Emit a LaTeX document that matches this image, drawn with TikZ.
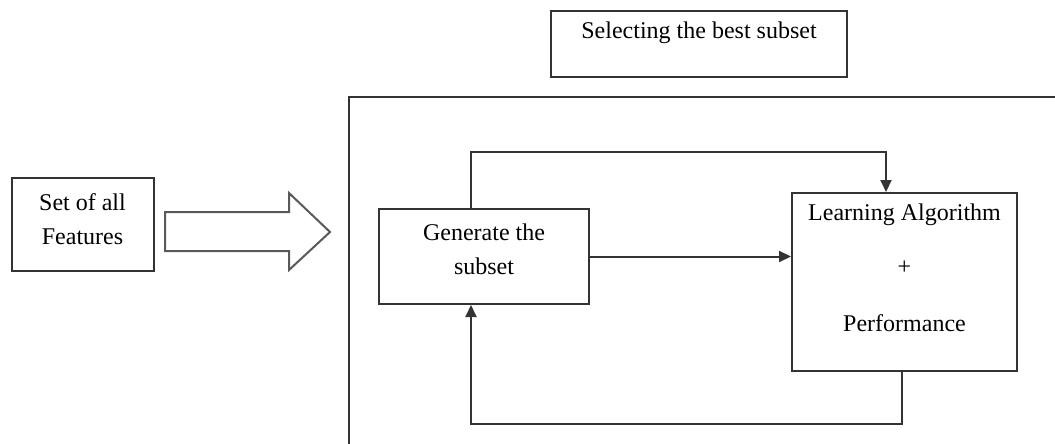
\documentclass[tikz,border=0pt]{standalone}
\usepackage{fontspec}
\setmainfont{Liberation Serif}
\usetikzlibrary{arrows.meta}
\begin{document}
\begin{tikzpicture}[x=1pt,y=-1pt,
  box/.style={draw=black!80,line width=2pt,fill=white,inner sep=0pt},
  txt/.style={font=\fontsize{24}{34}\selectfont,align=center,inner sep=0pt},
  wire/.style={draw=black!80,line width=2pt},
  arr/.style={wire,-{Triangle[length=12pt,width=11pt]}}]
\clip (0,0) rectangle (1055,444);
\fill[white] (0,0) rectangle (1055,444);

% input box
\node[box,minimum width=142pt,minimum height=93pt] (feat) at (82.5,224.5) {};
\node[txt] (feattxt) at (82.5,219) {Set of all\\Features};

% hollow block arrow into the selection frame
\draw[draw=black!65,line width=2pt,line join=miter]
  (165,212) -- (289,212) -- (289,193) -- (330,232) -- (289,270) -- (289,251) -- (165,251) -- cycle;

% title box
\node[box,minimum width=296pt,minimum height=66pt] (sel) at (699,44) {};
\node[txt] (seltxt) at (699,33) {Selecting the best subset};

% open frame around the wrapper loop
\draw[wire] (1060,97) -- (349,97) -- (349,450);

% inner blocks
\node[box,minimum width=210pt,minimum height=95pt] (gen) at (484,256.5) {};
\node[txt] (gentxt) at (484,249.5) {Generate the\\subset};

\node[box,minimum width=225pt,minimum height=178pt] (learn) at (904.5,282) {};
\node[txt] (l1) at (904.5,215) {Learning Algorithm};
\node[txt] (l2) at (904.5,268) {+};
\node[txt] (l3) at (904.5,323) {Performance};

% connectors
\coordinate (tl) at (471,152);
\coordinate (tr) at (886,152);
\coordinate (bl) at (471,424);
\coordinate (br) at (902,424);
\draw[arr] (gen.north -| tl) -- (tl) -- (tr) -- (learn.north -| tr);
\draw[arr] (gen.east) -- (gen.east -| learn.west);
\draw[arr] (learn.south -| br) -- (br) -- (bl) -- (gen.south -| bl);
\end{tikzpicture}
\end{document}
